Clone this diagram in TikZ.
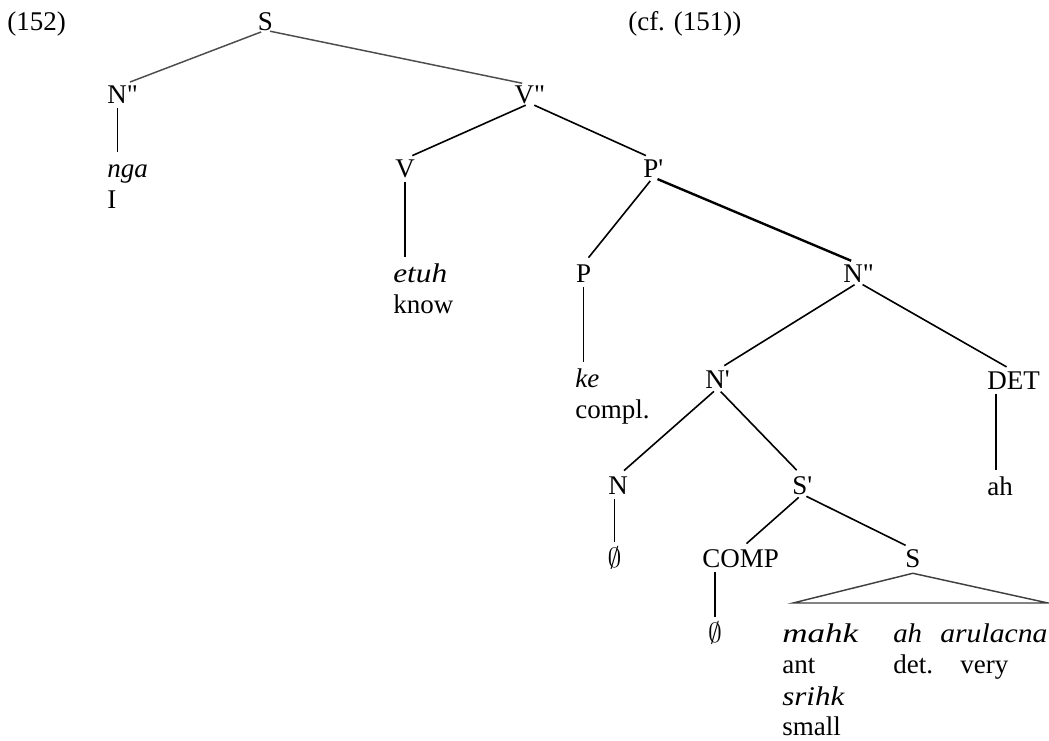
\documentclass[tikz,border=0pt]{standalone}
\usepackage{fontspec}
\setmainfont{Liberation Serif}[Ligatures=TeXOff]
\begin{document}
\begin{tikzpicture}[x=0.75pt,y=-0.75pt,
  every node/.style={font=\fontsize{20.25}{23}\selectfont, inner sep=0pt, text height=13.4pt, text depth=0pt},
  cat/.style={anchor=base},
  catw/.style={anchor=base west},
  word/.style={anchor=base west},
  branch/.style={line width=1.2pt, shorten <=3.5pt, shorten >=6pt},
  topbranch/.style={branch, line width=1.1pt, black!70},
  stem/.style={line width=1.2pt, shorten <=3.5pt, shorten >=5pt},
  tri/.style={line width=1.1pt, black!75, line join=miter}]
\useasboundingbox (0,0) rectangle (1049,740);

% labels
\node[word] (ex) at (7,30) {(152)};
\node[word] (cf) at (628,30) {(cf. (151))};

% categories
\node[cat] (s) at (265.5,30) {S};
\node[catw] (nn1) at (107,103) {N"};
\node[cat] (vv) at (530,103) {V"};
\node[cat] (v) at (405,177) {V};
\node[catw] (pp) at (643,177) {P'};
\node[cat] (p) at (583.5,282) {P};
\node[catw] (nn2) at (843,282) {N"};
\node[catw] (nb) at (705,388) {N'};
\node[catw] (det) at (987,389) {DET};
\node[catw] (n) at (608,494) {N};
\node[catw] (sb) at (792,494) {S'};
\node[catw] (comp) at (702,567) {COMP};
\node[catw] (s2) at (905,567) {S};

% words
\node[word] (nga) at (107,177) {\itshape nga};
\node[word] (gI) at (107,208) {I};
\node[word] (etuh) at (393,282) {\itshape\addfontfeature{FakeStretch=1.16}etuh};
\node[word] (know) at (393,313) {know};
\node[word] (ke) at (575,387) {\itshape ke};
\node[word] (compl) at (575,418) {compl.};
\node[word] (ah) at (987,495) {ah};
\node[cat] (zn) at (614.5,567) {$\emptyset$};
\node[cat] (zc) at (715,642) {$\emptyset$};
\node[word] (mahk) at (782,642) {\itshape\addfontfeature{FakeStretch=1.3}mahk};
\node[word] (ah2) at (893,642) {\itshape\addfontfeature{FakeStretch=1.07}ah};
\node[word] (arul) at (940,642) {\itshape\addfontfeature{FakeStretch=1.1}arulacna};
\node[word] (ant) at (782,673) {ant};
\node[word] (dett) at (893,673) {det.};
\node[word] (very) at (960,673) {very};
\node[word] (srihk) at (782,705) {\itshape\addfontfeature{FakeStretch=1.15}srihk};
\node[word] (small) at (782,735) {small};

% branches
\draw[topbranch] (s.south) -- (nn1.north);
\draw[topbranch] (s.south) -- (vv.north);
\draw[branch] (vv.south) -- (v.north);
\draw[branch] (vv.south) -- (pp.north);
\draw[branch] (pp.south) -- (p.north);
\draw[branch, line width=1.8pt] (pp.south) -- (nn2.north);
\draw[branch] (nn2.south) -- (nb.north);
\draw[branch] (nn2.south) -- (det.north);
\draw[branch] (nb.south) -- (n.north);
\draw[branch] (nb.south) -- (sb.north);
\draw[branch] (sb.south) -- (comp.north);
\draw[branch] (sb.south) -- (s2.north);

% stems
\draw[stem] ([xshift=-3.75pt]nn1.south) -- ([xshift=-3.75pt]nn1.south |- nga.north);
\draw[stem] (v.south) -- (v.south |- etuh.north);
\draw[stem] (p.south) -- (p.south |- ke.north);
\draw[stem] ([xshift=-3pt]ah.north |- det.south) -- ([xshift=-3pt]ah.north);
\draw[stem] (zn.north |- n.south) -- (zn.north);
\draw[stem] (zc.north |- comp.south) -- (zc.north);

% triangle
\coordinate (tl) at (793,603);
\coordinate (tr) at (1048,603);
\draw[tri] ([yshift=-4.5pt]s2.south) -- (tl) -- (tr) -- cycle;
\end{tikzpicture}
\end{document}
